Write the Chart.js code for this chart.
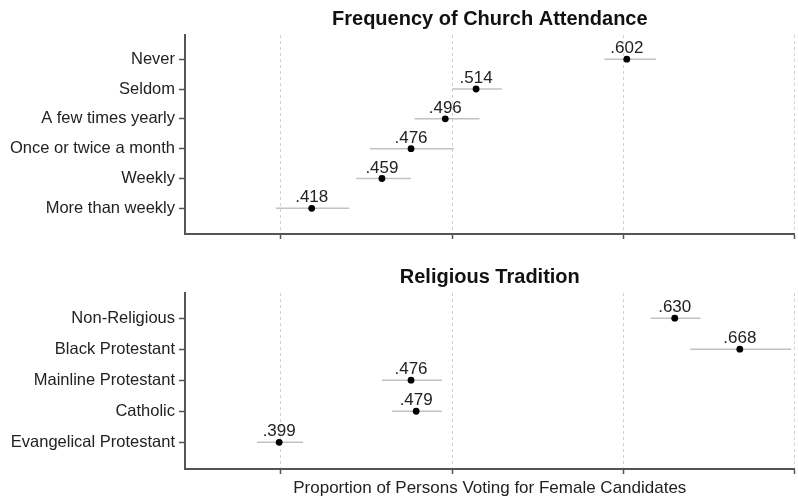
<!DOCTYPE html>
<html>
<head>
<meta charset="utf-8">
<script src="https://cdn.jsdelivr.net/npm/chart.js@4/dist/chart.umd.min.js"></script>
<style>
  html, body { margin: 0; padding: 0; background: #fff; }
  #wrap { position: relative; width: 798px; height: 499px; }
  #attendance { position: absolute; left: 0; top: 0; }
  #tradition { position: absolute; left: 0; top: 258px; }
</style>
</head>
<body>
<div id="wrap">
  <canvas id="attendance" width="798" height="250"></canvas>
  <canvas id="tradition" width="798" height="241"></canvas>
</div>
<script>
// Frequency of church attendance: point estimates and interval ends
const attendanceLabels = ['Never', 'Seldom', 'A few times yearly', 'Once or twice a month', 'Weekly', 'More than weekly'];
const attendanceValues = [0.602, 0.514, 0.496, 0.476, 0.459, 0.418];
const attendanceLow    = [0.589, 0.500, 0.478, 0.452, 0.444, 0.397];
const attendanceHigh   = [0.619, 0.529, 0.516, 0.501, 0.476, 0.440];

// Religious tradition: point estimates and interval ends
const traditionLabels = ['Non-Religious', 'Black Protestant', 'Mainline Protestant', 'Catholic', 'Evangelical Protestant'];
const traditionValues = [0.630, 0.668, 0.476, 0.479, 0.399];
const traditionLow    = [0.616, 0.639, 0.459, 0.465, 0.386];
const traditionHigh   = [0.645, 0.698, 0.494, 0.494, 0.413];

// Shared horizontal axis
const xTickValues = [0.4, 0.5, 0.6, 0.7];
const xMin = 0.344;
const xMax = 0.7;
const xTitle = 'Proportion of Persons Voting for Female Candidates';

const FONT = "'Liberation Sans', Arial, Helvetica, sans-serif";
Chart.defaults.font.family = FONT;

// ".602" style proportion text
const fmt = v => v.toFixed(3).replace(/^0/, '');

// Writes each estimate just above its dot
const valueLabels = {
  id: 'valueLabels',
  afterDatasetsDraw(chart) {
    const meta = chart.getDatasetMeta(0);
    const ds = chart.data.datasets[0];
    const ctx = chart.ctx;
    ctx.save();
    ctx.font = '17px ' + FONT;
    ctx.fillStyle = '#222';
    ctx.textAlign = 'center';
    ctx.textBaseline = 'alphabetic';
    meta.data.forEach((pt, i) => {
      ctx.fillText(fmt(ds.data[i].x), pt.x, pt.y - 6);
    });
    ctx.restore();
  }
};

function dotPlot(canvasId, title, labels, values, low, high, showXTitle) {
  const points = {
    data: values.map((v, i) => ({ x: v, y: i })),
    pointRadius: 3.4,
    pointHoverRadius: 3.4,
    backgroundColor: '#000',
    borderColor: '#000',
    borderWidth: 0,
    showLine: false
  };
  const bars = labels.map((_, i) => ({
    data: [{ x: low[i], y: i }, { x: high[i], y: i }],
    showLine: true,
    borderColor: '#c2c2c2',
    borderWidth: 1.5,
    pointRadius: 0,
    pointHoverRadius: 0
  }));

  return new Chart(document.getElementById(canvasId), {
    type: 'scatter',
    data: { datasets: [points, ...bars] },
    plugins: [valueLabels],
    options: {
      responsive: false,
      animation: false,
      events: [],
      layout: { padding: { left: 0, right: 3, top: 0, bottom: showXTitle ? 0 : 11 } },
      plugins: {
        legend: { display: false },
        tooltip: { enabled: false },
        title: {
          display: true,
          text: title,
          fullSize: false,
          color: '#111',
          font: { size: 20, weight: 'bold', family: FONT, lineHeight: 1.2 },
          padding: { top: 7, bottom: 4 }
        }
      },
      scales: {
        x: {
          type: 'linear',
          min: xMin,
          max: xMax,
          afterBuildTicks: s => { s.ticks = xTickValues.map(v => ({ value: v })); },
          ticks: { display: false },
          grid: {
            drawOnChartArea: true,
            color: '#d2d2d2',
            lineWidth: 1,
            drawTicks: true,
            tickLength: 5,
            tickColor: '#555',
            tickWidth: 1.5
          },
          border: { display: true, color: '#555', width: 2, dash: [3, 3] },
          title: {
            display: showXTitle,
            text: xTitle,
            color: '#222',
            font: { size: 17, family: FONT, lineHeight: 1.2 },
            padding: { top: 4.6, bottom: 0 }
          }
        },
        y: {
          type: 'linear',
          reverse: true,
          min: -0.81,
          max: labels.length - 1 + 0.86,
          afterBuildTicks: s => { s.ticks = labels.map((_, i) => ({ value: i })); },
          afterFit: s => { s.width = 185; },
          ticks: {
            autoSkip: false,
            padding: 4,
            color: '#222',
            font: { size: 16.5, family: FONT },
            callback: v => labels[v]
          },
          grid: {
            drawOnChartArea: false,
            drawTicks: true,
            tickLength: 6,
            tickColor: '#555',
            tickWidth: 1.5
          },
          border: { display: true, color: '#555', width: 2 }
        }
      }
    }
  });
}

dotPlot('attendance', 'Frequency of Church Attendance',
  attendanceLabels, attendanceValues, attendanceLow, attendanceHigh, false);
dotPlot('tradition', 'Religious Tradition',
  traditionLabels, traditionValues, traditionLow, traditionHigh, true);
</script>
</body>
</html>
